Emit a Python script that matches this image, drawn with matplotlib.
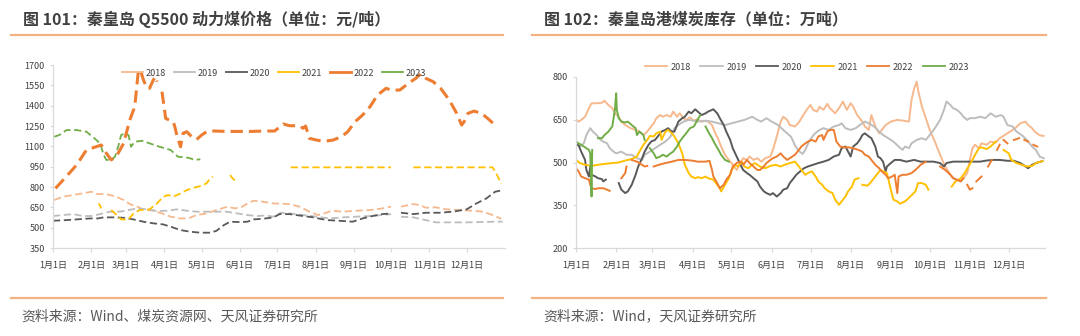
import numpy as np
import matplotlib
matplotlib.use("Agg")
import matplotlib.pyplot as plt
from matplotlib.lines import Line2D

plt.rcParams['font.family'] = ['Noto Sans CJK SC', 'DejaVu Sans']

# ---------------- data ----------------
YEARS = ["2018", "2019", "2020", "2021", "2022", "2023"]
COLORS = {"2018": "#f6b98e", "2019": "#bdbdbd", "2020": "#595959",
          "2021": "#ffc000", "2022": "#ed7d31", "2023": "#70ad47"}

MONTH_DAYS = [0, 31, 59, 90, 120, 151, 181, 212, 243, 273, 304, 334]
MONTH_LABELS = [f"{m}月1日" for m in range(1, 13)]

# 秦皇岛 Q5500 动力煤价格 (day of year, 元/吨); None = no quote
price_2018 = [(1, 704), (8, 728), (16, 741), (24, 753), (31, 765), (36, 748), (43, 748), (51, 728),
              (57, 704), (62, 674), (68, 655), (73, 635), (81, 625), (88, 605), (95, 581), (103, 568),
              (109, 568), (116, 593), (124, 605), (132, 630), (141, 655), (147, 642), (153, 655),
              (157, 679), (162, 699), (170, 691), (178, 679), (191, 674), (199, 655), (207, 618),
              (214, 593), (219, 605), (225, 625), (234, 618), (245, 625), (256, 630), (266, 642),
              (273, 655), (277, None), (281, 655), (291, 674), (296, 667), (301, 647), (309, 650),
              (318, 635), (328, 630), (339, 625), (347, 618), (355, 593), (362, 565)]
price_2019 = [(0, 586), (8, 593), (16, 600), (24, 586), (31, 586), (38, 600), (46, 618), (54, 618),
              (61, 630), (68, 642), (76, 635), (84, 623), (92, 625), (100, 635), (108, 625), (116, 618),
              (124, 618), (132, 618), (140, 618), (149, 605), (157, 593), (165, 586), (172, 590),
              (178, 581), (184, 610), (191, 605), (202, 593), (213, 581), (223, 568), (234, 576),
              (245, 581), (256, 586), (266, 593), (273, 600), (277, None), (281, 581), (291, 576),
              (301, 556), (309, 539), (320, 539), (334, 539), (347, 542), (357, 544), (363, 544)]
price_2020 = [(0, 551), (11, 556), (22, 563), (30, 568), (36, 568), (41, 576), (49, 576), (57, 573),
              (65, 561), (73, 544), (81, 532), (89, 524), (95, 507), (103, 482), (111, 470), (119, 463),
              (127, 463), (132, 477), (138, 519), (143, 544), (151, 541), (157, 544), (162, 561),
              (170, 566), (178, 576), (183, 600), (191, 600), (202, 586), (210, 576), (221, 556),
              (231, 551), (242, 544), (250, 568), (258, 586), (266, 600), (273, 605), (277, None),
              (281, 610), (291, 600), (301, 610), (312, 610), (323, 618), (334, 635), (342, 679),
              (350, 716), (357, 765), (362, 775)]
price_2021 = [(37, 679), (39, 642), (41, None), (47, 630), (53, 581), (55, 561), (61, 561), (65, 605),
              (70, 630), (78, 635), (84, 679), (89, 728), (93, 741), (97, 728), (103, 753), (108, 777),
              (114, 795), (119, 807), (124, 827), (127, 864), (129, 876), (135, None), (143, 888),
              (145, 864), (148, 839), (170, None), (192, 945), (273, 945), (282, None), (291, 945),
              (355, 945), (358, 900), (362, 823)]
price_2022 = [(2, 790), (13, 900), (19, 962), (27, 1073), (39, 1110), (43, 1050), (47, 1000), (51, 1023),
              (57, 1122), (62, 1294), (66, 1392), (69, 1663), (71, 1650), (73, 1590), (76, 1528),
              (78, 1528), (81, 1590), (83, 1614), (84, 1577), (86, None), (88, 1503), (91, 1306),
              (94, 1294), (97, 1282), (98, 1257), (100, 1183), (103, 1097), (105, 1196), (108, 1208),
              (112, 1171), (116, 1151), (120, 1183), (124, 1208), (130, 1213), (140, 1210), (150, 1210),
              (160, 1210), (170, 1213), (179, 1213), (186, 1265), (191, 1252), (199, 1252), (202, 1233),
              (204, 1250), (207, 1159), (213, 1146), (219, 1137), (226, 1146), (233, 1171), (238, 1208),
              (244, 1282), (250, 1331), (256, 1392), (262, 1478), (269, 1528), (273, 1515), (280, 1515),
              (287, 1565), (293, 1602), (297, 1634), (301, 1602), (307, 1577), (313, 1528), (320, 1442),
              (326, 1343), (330, 1257), (332, 1282), (335, 1343), (340, 1360), (346, 1343), (351, 1306),
              (357, 1257), (359, 1250)]
price_2023 = [(1, 1171), (5, 1183), (11, 1220), (19, 1220), (27, 1208), (32, 1171), (38, 1122),
              (41, 1036), (43, 1000), (47, 1000), (50, 1023), (53, 1110), (55, 1183), (58, 1196),
              (61, 1183), (63, 1097), (66, 1134), (72, 1141), (78, 1122), (86, 1097), (95, 1073),
              (101, 1023), (107, 1019), (111, 1011), (114, 1000), (119, 1004)]

# 秦皇岛港煤炭库存 (day of year, 万吨); None = no data
stock_2018 = [(0, 651), (2, 643), (4, 649), (7, 660), (10, 690), (12, 707), (16, 707), (20, 709),
              (22, 716), (25, 701), (28, 690), (30, 672), (33, 660), (35, 643), (38, 631), (42, 620),
              (46, 614), (49, 608), (52, 596), (55, 608), (57, 620), (60, 637), (62, 655), (65, 666),
              (67, 660), (70, 666), (73, 660), (75, 678), (78, 660), (80, 672), (83, 655), (85, 649),
              (88, 658), (91, 646), (93, 651), (97, 643), (101, 646), (105, 631), (107, 608), (110, 579),
              (112, 556), (115, 527), (118, 509), (120, 498), (123, 480), (124, 474), (127, 498),
              (129, 515), (132, 509), (134, 521), (137, 509), (140, 515), (143, 503), (146, 515),
              (150, 521), (152, 544), (155, 591), (158, 643), (160, 660), (163, 649), (165, 631),
              (169, 626), (172, 640), (174, 655), (178, 684), (181, 701), (183, 684), (186, 678),
              (188, 695), (191, 684), (194, 705), (196, 690), (200, 672), (203, 690), (206, 713),
              (209, 684), (212, 707), (214, 695), (217, 666), (221, 643), (223, 626), (226, 614),
              (228, 666), (231, 626), (234, 602), (236, 614), (239, 631), (243, 643), (248, 649),
              (253, 646), (257, 643), (259, 719), (261, 759), (263, 783), (264, 753), (267, 695),
              (270, 655), (273, 614), (277, 573), (281, 527), (285, 486), (289, 457), (293, 440),
              (297, 434), (299, 445), (302, 463), (304, 509), (306, 550), (308, 562), (311, 550),
              (313, 567), (317, 562), (320, 573), (324, 570), (327, 585), (331, 596), (335, 608),
              (339, 620), (343, 637), (347, 643), (349, 631), (352, 620), (354, 608), (358, 595),
              (361, 593)]
stock_2019 = [(0, 567), (3, 556), (6, 567), (8, 596), (11, 620), (13, 608), (16, 596), (19, 579),
              (21, 573), (24, 567), (26, 550), (29, 538), (31, 532), (35, 538), (39, 527), (43, 527),
              (47, 515), (51, 509), (53, 527), (57, 538), (61, 550), (65, 562), (69, 573), (73, 591),
              (76, 620), (79, 631), (83, 643), (87, 649), (91, 646), (94, 643), (100, 646), (105, 643),
              (110, 637), (115, 631), (120, 637), (125, 643), (130, 649), (136, 660), (140, 649),
              (143, 643), (147, 655), (151, 643), (156, 631), (160, 614), (163, 602), (166, 590),
              (169, 560), (172, 540), (175, 530), (177, 545), (180, 575), (184, 600), (188, 614),
              (191, 620), (195, 614), (199, 626), (203, 631), (205, 637), (208, 620), (212, 614),
              (216, 620), (219, 631), (223, 643), (226, 637), (230, 626), (234, 608), (237, 596),
              (241, 585), (245, 573), (249, 556), (252, 544), (254, 556), (257, 550), (259, 567),
              (263, 579), (267, 585), (270, 579), (273, 596), (277, 620), (281, 649), (284, 684),
              (286, 713), (289, 701), (291, 690), (294, 684), (297, 672), (299, 660), (302, 649),
              (304, 655), (308, 655), (312, 660), (316, 655), (320, 672), (324, 660), (328, 666),
              (330, 660), (333, 631), (337, 626), (340, 608), (344, 596), (348, 579), (352, 556),
              (355, 544), (358, 520), (361, 515)]
stock_2020 = [(0, 562), (2, 560), (4, 538), (7, 509), (8, 474), (10, 451), (11, 486), (12, 457),
              (15, 451), (17, 445), (20, 442), (21, 434), (23, 440), (27, None), (33, 428), (35, 405),
              (38, 393), (40, 399), (43, 422), (46, 457), (48, 486), (51, 515), (53, 538), (56, 562),
              (58, 573), (61, 579), (64, 596), (66, 608), (69, 614), (71, 620), (74, 608), (76, 608),
              (79, 643), (82, 655), (84, 660), (87, 678), (89, 672), (92, 686), (94, 678), (97, 666),
              (100, 672), (102, 678), (106, 686), (109, 672), (111, 655), (114, 631), (116, 608),
              (119, 579), (121, 550), (124, 521), (127, 492), (129, 474), (132, 463), (134, 457),
              (137, 445), (140, 434), (142, 416), (145, 399), (147, 393), (150, 387), (152, 393),
              (155, 381), (158, 393), (160, 405), (163, 410), (165, 428), (168, 445), (170, 457),
              (173, 469), (176, 480), (179, 486), (183, 492), (187, 498), (191, 503), (195, 509),
              (199, 521), (203, 527), (205, 550), (208, 556), (210, 538), (212, 521), (214, 556),
              (217, 567), (219, 579), (221, 596), (223, 602), (226, 591), (228, 585), (231, 556),
              (233, 521), (235, 515), (237, 503), (239, 469), (240, 486), (243, 498), (246, 509),
              (250, 509), (255, 503), (261, 509), (266, 503), (271, 503), (276, 503), (281, 498),
              (284, 486), (286, 498), (291, 503), (297, 503), (302, 503), (307, 503), (312, 503),
              (317, 507), (322, 509), (327, 509), (333, 506), (338, 506), (343, 498), (347, 486),
              (349, 480), (352, 492), (355, 498), (360, 505)]
stock_2021 = [(0, 509), (3, 498), (7, 492), (12, 488), (17, 492), (22, 495), (28, 498), (33, 500),
              (38, 507), (43, 512), (47, 521), (49, 538), (52, 562), (55, 579), (57, 593), (60, 591),
              (62, 602), (65, 608), (66, 579), (69, 608), (71, 614), (74, 602), (76, 591), (79, 567),
              (82, 532), (84, 492), (87, 463), (89, 451), (92, 445), (94, 449), (97, 445), (100, 451),
              (102, 445), (106, 440), (109, 422), (111, 410), (112, 399), (115, 422), (118, 445),
              (120, 474), (123, 492), (125, 486), (128, 503), (130, 486), (133, 480), (136, 492),
              (138, 498), (142, 486), (146, 480), (150, 488), (154, 492), (158, 486), (161, 492),
              (165, 498), (169, 503), (172, 486), (174, 474), (177, 457), (179, 463), (182, 469),
              (185, 451), (187, 434), (190, 422), (192, 410), (195, 399), (198, 393), (200, 370),
              (203, 352), (205, 364), (208, 381), (210, 399), (213, 416), (215, 440), (218, 445),
              (219, None), (221, 422), (225, 419), (227, 428), (230, 445), (232, 457), (235, 474),
              (237, 469), (240, 463), (243, 405), (245, 370), (248, 364), (250, 356), (254, 364),
              (258, 381), (262, 399), (264, 428), (267, 428), (270, 422), (272, 405), (280, None),
              (290, 416), (293, 434), (297, 445), (300, 463), (303, 486), (306, 509), (308, 527),
              (311, 550), (313, 553), (317, 547), (320, 556), (324, 573), (327, None), (330, 544),
              (334, 532), (336, 509), (340, 498), (344, 492), (348, 486), (352, 488), (355, 498),
              (360, 505)]
stock_2022 = [(0, 480), (2, 469), (4, 451), (7, 445), (10, 440), (11, 422), (12, 410), (15, 407),
              (17, 410), (21, 410), (24, 405), (26, 401), (30, None), (35, 445), (38, 463), (39, 486),
              (41, None), (43, 509), (47, 503), (49, 498), (53, 486), (55, 488), (57, None), (60, 486),
              (64, 492), (69, 498), (74, 503), (79, 509), (84, 509), (89, 507), (94, 503), (100, 503),
              (103, 506), (105, 474), (106, 451), (109, 428), (111, 410), (114, 422), (116, 440),
              (119, 457), (121, 486), (124, 498), (127, 503), (129, 492), (132, 509), (134, 498),
              (137, 486), (140, 474), (142, 474), (145, 486), (147, 498), (150, 509), (152, 515),
              (155, 521), (158, 532), (160, 521), (163, 509), (165, 515), (169, 527), (172, 544),
              (174, 556), (177, 567), (179, 573), (182, 579), (185, 573), (187, 591), (190, 596),
              (191, 579), (194, 608), (196, 614), (199, 614), (201, 573), (204, 556), (206, 553),
              (210, 553), (214, 550), (218, 544), (221, 538), (223, 527), (226, 521), (228, 509),
              (231, 492), (234, 480), (236, 469), (239, 457), (241, 445), (244, 451), (246, 457),
              (248, 393), (249, 451), (252, 457), (255, 457), (259, 463), (262, 474), (266, 492),
              (270, 503), (275, None), (281, 486), (285, 474), (289, 457), (291, 445), (294, 440),
              (297, 434), (299, 445), (300, None), (302, 422), (304, 405), (306, 410), (307, None),
              (309, 434), (313, 451), (315, None), (318, 486), (321, 509), (323, None), (325, 544),
              (327, 562), (328, None), (330, 579), (333, 567), (335, None), (338, 579), (342, 585),
              (344, None), (346, 579), (349, 573), (351, None), (353, 562), (356, 556)]
stock_2023 = [(0, 573), (2, 567), (4, 562), (6, 556), (8, 550), (10, 544), (11, 532), (12, 381),
              (12.5, 544), (14, None), (17, 585), (20, 585), (22, 596), (25, 608), (28, 626), (30, 684),
              (31, 742), (31.5, 684), (33, 655), (35, 643), (38, 640), (40, 643), (43, 631), (46, 620),
              (47, 596), (49, 608), (52, 596), (53, 579), (55, None), (57, 550), (60, 532), (62, 515),
              (65, 521), (67, 527), (70, 521), (73, 532), (75, 538), (78, 556), (80, 573), (83, 591),
              (85, 602), (88, 620), (91, 626), (93, 643), (96, 666), (98, None), (100, 626), (102, 608),
              (105, 585), (107, 567), (110, 544), (112, 527), (115, 509), (118, 503)]

price = dict(zip(YEARS, [price_2018, price_2019, price_2020, price_2021, price_2022, price_2023]))
stock = dict(zip(YEARS, [stock_2018, stock_2019, stock_2020, stock_2021, stock_2022, stock_2023]))


def unpack(pairs):
    d = np.array([p[0] for p in pairs], dtype=float)
    v = np.array([np.nan if p[1] is None else p[1] for p in pairs], dtype=float)
    return d, v


def style_axes(ax, yticks, xmax):
    ax.set_xlim(0, xmax)
    ax.set_ylim(yticks[0], yticks[-1])
    ax.set_yticks(yticks)
    ax.set_xticks(MONTH_DAYS)
    ax.set_xticklabels(MONTH_LABELS)
    for s in ("top", "right"):
        ax.spines[s].set_visible(False)
    for s in ("left", "bottom"):
        ax.spines[s].set_color("#d9d9d9")
        ax.spines[s].set_linewidth(0.9)
    ax.tick_params(axis="x", length=3, width=0.8, color="#d9d9d9", labelsize=6.5,
                   labelcolor="#404040", pad=6)
    ax.tick_params(axis="y", length=2, width=0.8, color="#d9d9d9", labelsize=6.5,
                   labelcolor="#404040", pad=4)


def legend_handles(widths):
    return [Line2D([], [], color=COLORS[y], lw=widths.get(y, 1.3)) for y in YEARS]


fig = plt.figure(figsize=(10.8, 3.36), dpi=100)
W, H = 1080, 336

# ---- left: price ----
axL = fig.add_axes([53 / W, 1 - 248 / H, 452 / W, 183 / H])
for y in YEARS:
    d, v = unpack(price[y])
    lw = 2.2 if y == "2022" else 1.3
    axL.plot(d, v, color=COLORS[y], lw=lw, ls=(0, (4, 2)), zorder=3 if y == "2022" else 2)
style_axes(axL, np.arange(350, 1701, 150), 365)
axL.legend(legend_handles({"2022": 2.0}), YEARS, loc="center", ncol=6, frameon=False,
           bbox_to_anchor=(274 / W, 1 - 73 / H), bbox_transform=fig.transFigure,
           fontsize=6.5, handlelength=2.3, handletextpad=0.3, columnspacing=0.9,
           labelcolor="#404040")

# ---- right: stock ----
axR = fig.add_axes([576 / W, 1 - 248.3 / H, 469 / W, 171.6 / H])
for y in YEARS:
    d, v = unpack(stock[y])
    axR.plot(d, v, color=COLORS[y], lw=1.4)
style_axes(axR, np.arange(200, 801, 150), 362)
axR.legend(legend_handles({}), YEARS, loc="center", ncol=6, frameon=False,
           bbox_to_anchor=(807 / W, 1 - 67 / H), bbox_transform=fig.transFigure,
           fontsize=6.5, handlelength=2.5, handletextpad=0.4, columnspacing=1.0,
           labelcolor="#404040")

# ---- titles, rules, sources ----
rule = "#f4b183"
for x0, x1, yy in [(11, 503, 34.5), (532, 1046, 34.5), (11, 503, 298), (532, 1046, 298)]:
    fig.add_artist(Line2D([x0 / W, x1 / W], [1 - yy / H, 1 - yy / H], color=rule, lw=1.6,
                          transform=fig.transFigure))

fig.text(23 / W, 1 - 19 / H, "图 101：秦皇岛 Q5500 动力煤价格（单位：元/吨）", fontsize=11.5,
         fontweight="bold", color="#404040", va="center")
fig.text(544 / W, 1 - 19 / H, "图 102：秦皇岛港煤炭库存（单位：万吨）", fontsize=11.5,
         fontweight="bold", color="#404040", va="center")
fig.text(21 / W, 1 - 316.5 / H, "资料来源：Wind、煤炭资源网、天风证券研究所", fontsize=10,
         color="#595959", va="center")
fig.text(543 / W, 1 - 316.5 / H, "资料来源：Wind，天风证券研究所", fontsize=10,
         color="#595959", va="center")

fig.savefig("out.png", dpi=100, facecolor="white")
